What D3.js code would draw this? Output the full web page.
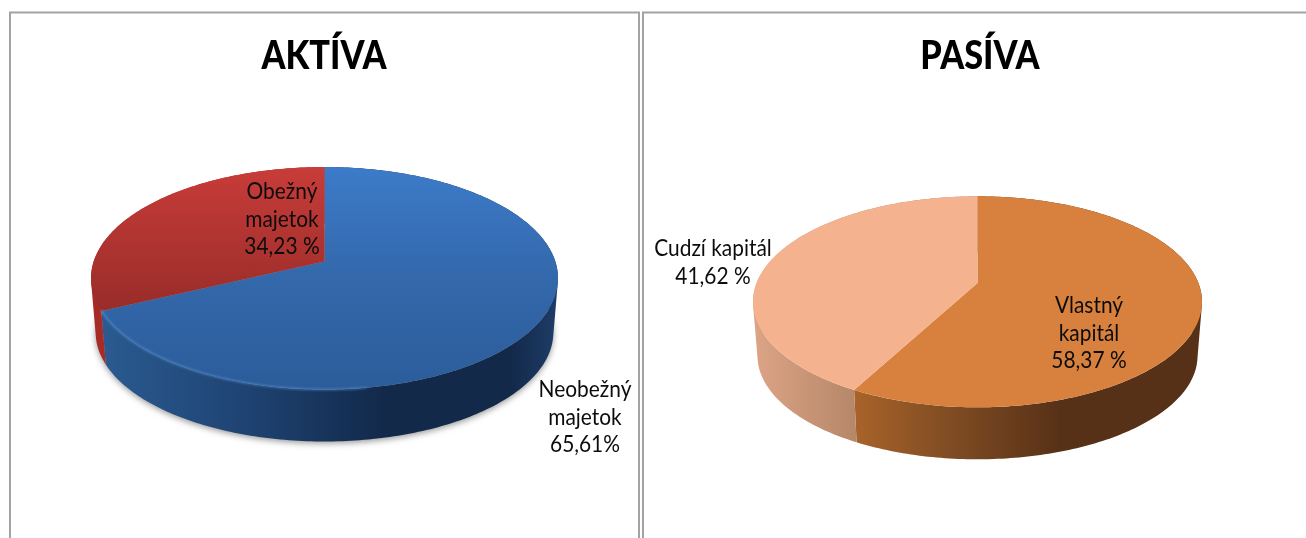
<!DOCTYPE html>
<html>
<head>
<meta charset="utf-8">
<script src="https://cdn.jsdelivr.net/npm/d3@7/dist/d3.min.js"></script>
<style>
html, body { margin: 0; padding: 0; background: #fff; overflow: hidden; }
svg { display: block; filter: blur(0.35px); }
.title { font: 900 35px Lato, sans-serif; text-anchor: middle; fill: #000; }
.lbl { font: 20.5px Lato, sans-serif; text-anchor: middle; fill: #0c0c0c; }
</style>
</head>
<body>
<script>
// slice shares as drawn by the wedges (the typed labels differ a little from the wedge sizes)
var aktivaNames = ["Neobezny", "Obezny"];
var aktivaShares = [68, 32];
var aktivaLabels = [["Neobežný", "majetok", "65,61%"], ["Obežný", "majetok", "34,23 %"]];

var pasivaNames = ["Vlastny", "Cudzi"];
var pasivaShares = [57.8, 42.2];
var pasivaLabels = [["Vlastný", "kapitál", "58,37 %"], ["Cudzí kapitál", "41,62 %"]];

var width = 1306, height = 538;

var svg = d3.select("body").append("svg")
	.attr("width", width)
	.attr("height", height);
var defs = svg.append("defs");

defs.append("filter").attr("id", "soft")
	.attr("x", "-10%").attr("y", "-10%").attr("width", "120%").attr("height", "120%")
	.append("feGaussianBlur").attr("stdDeviation", 3);
defs.append("filter").attr("id", "rim")
	.append("feGaussianBlur").attr("stdDeviation", 0.8);

function gradient(id, x1, y1, x2, y2, stops) {
	var g = defs.append("linearGradient").attr("id", id)
		.attr("gradientUnits", "userSpaceOnUse")
		.attr("x1", x1).attr("y1", y1).attr("x2", x2).attr("y2", y2);
	stops.forEach(function(s) {
		g.append("stop").attr("offset", s[0]).attr("stop-color", s[1]);
	});
	return "url(#" + id + ")";
}

// panel frames
var frames = svg.append("g").attr("fill", "none");
[[10, 639], [643, width + 5]].forEach(function(f) {
	frames.append("path")
		.attr("d", "M" + f[0] + "," + (height + 5) + "V12.5H" + f[1] + "V" + (height + 5))
		.attr("stroke", "#a3a3a3").attr("stroke-width", 2);
});

// disc seen in perspective: the ellipse centre sits below the pie's vertex
function projection(cx, vy, top, bottom, rx) {
	var up = vy - top, down = bottom - vy;
	var k = (down - up) / (down + up);
	var a = down * (1 - k);
	var b = rx * Math.sqrt(1 - k * k);
	return function(angle, s, dy) {
		var u = Math.sin(angle), v = -Math.cos(angle), w = 1 - k * v;
		return [cx + s * b * u / w, dy + s * a * v / w];
	};
}

function drawPie(cfg) {
	var g = svg.append("g");
	var proj = projection(cfg.cx, cfg.vy, cfg.top, cfg.bottom, cfg.rx);
	var s2 = 0.98;
	var vy2 = cfg.bottom + cfg.depth - (cfg.bottom - cfg.vy) * s2;
	var line = d3.line();
	var arcs = d3.pie().sort(null)(cfg.values);

	function topPt(a) { return proj(a, 1, cfg.vy); }
	function lowPt(a) { return proj(a, s2, vy2); }
	function samples(a0, a1) {
		var n = Math.max(2, Math.ceil((a1 - a0) * 60));
		return d3.range(n + 1).map(function(i) { return a0 + (a1 - a0) * i / n; });
	}

	if (cfg.shadow) {
		g.append("path")
			.attr("d", line(samples(0, 2 * Math.PI).map(function(a) {
				var p = lowPt(a);
				return [p[0], p[1] + 2];
			})) + "Z")
			.attr("fill", "#9a9a9a").attr("filter", "url(#soft)");
	}

	// walls first, the top face covers their back part.
	// one quad per step, all wound the same way so the folds at the sides stay filled
	arcs.forEach(function(d, i) {
		var as = samples(d.startAngle, d.endAngle);
		var path = "";
		d3.pairs(as).forEach(function(p) {
			var quad = [topPt(p[0]), topPt(p[1]), lowPt(p[1]), lowPt(p[0])];
			if (d3.polygonArea(quad) < 0) quad.reverse();
			path += line(quad) + "Z";
		});
		g.append("path").attr("d", path).attr("fill", cfg.wall[i]);
	});

	arcs.forEach(function(d, i) {
		var pts = [[cfg.cx, cfg.vy]].concat(samples(d.startAngle, d.endAngle).map(topPt));
		g.append("path")
			.attr("d", line(pts) + "Z")
			.attr("fill", cfg.face[i]);
	});

	if (cfg.rim) {
		g.append("path")
			.attr("d", line(samples(Math.PI * 0.95, arcs[0].endAngle).map(topPt)))
			.attr("fill", "none").attr("stroke", cfg.rim)
			.attr("stroke-width", 1.6).attr("stroke-opacity", 0.6)
			.attr("filter", "url(#rim)");
	}

	g.append("text").attr("class", "title")
		.attr("transform", "translate(" + cfg.titleX + ",69) scale(0.98,1.12)")
		.text(cfg.title);

	cfg.labels.forEach(function(lines, i) {
		var pos = cfg.labelPos[i];
		lines.forEach(function(t, j) {
			g.append("text").attr("class", "lbl")
				.attr("transform", "translate(" + pos[0] + "," + (pos[1] + j * 27.5) + ") scale(1.02,1.1)")
				.text(t);
		});
	});
}

drawPie({
	title: "AKTÍVA", titleX: 324,
	cx: 324.5, vy: 261.5, top: 167, bottom: 389.5, rx: 233.5, depth: 52,
	values: aktivaShares, labels: aktivaLabels,
	labelPos: [[585, 397], [282, 199]],
	face: [
		gradient("blueTop", 0, 167, 0, 389, [[0, "#3c7bc9"], [0.5, "#3368ab"], [1, "#2c5c9a"]]),
		gradient("redTop", 0, 167, 0, 312, [[0, "#c83c39"], [1, "#982c29"]])
	],
	wall: [
		gradient("blueWall", 104, 0, 556, 0, [[0, "#2a5a90"], [0.3, "#1f4474"], [0.62, "#12294a"], [0.9, "#13294a"], [1, "#1d3c66"]]),
		"#a62b27"
	],
	rim: "#5b9be0", shadow: true
});

drawPie({
	title: "PASÍVA", titleX: 980,
	cx: 977.5, vy: 283, top: 196.3, bottom: 407.3, rx: 224.5, depth: 52,
	values: pasivaShares, labels: pasivaLabels,
	labelPos: [[1089, 313], [713, 256]],
	face: ["#d8803d", "#f4b28e"],
	wall: [
		gradient("orangeWall", 855, 0, 1060, 0, [[0, "#a8632a"], [0.5, "#7d4a22"], [1, "#573117"]]),
		gradient("peachWall", 756, 0, 858, 0, [[0, "#dca385"], [1, "#b58669"]])
	],
	rim: null, shadow: false
});
</script>
</body>
</html>
